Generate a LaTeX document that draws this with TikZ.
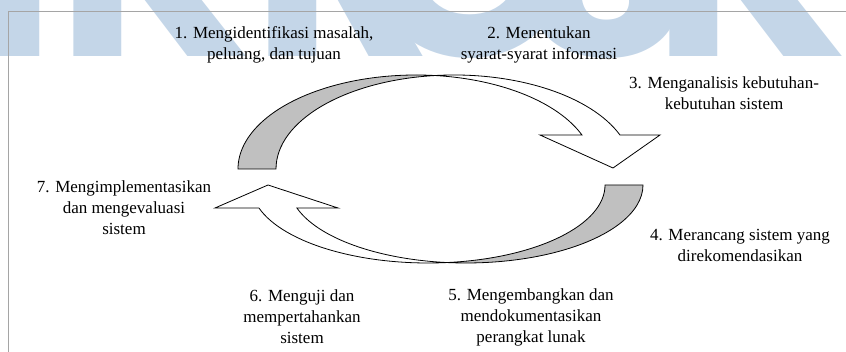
\documentclass[tikz,border=0pt]{standalone}
\usepackage{fontspec}
\setmainfont{Liberation Serif}
\newfontfamily\wmfont{Poppins}
\definecolor{bandgray}{RGB}{192,192,192}
\definecolor{wmblue}{RGB}{196,214,232}
\definecolor{framegray}{RGB}{165,165,165}

\begin{document}
\begin{tikzpicture}[x=1pt, y=1pt,
    steplabel/.style={align=center, inner sep=0pt, font=\fontsize{17}{21}\selectfont},
    band/.style={draw=black, line width=0.8pt, line join=miter}]
\useasboundingbox (0,0) rectangle (846,352);

% Watermark behind everything
\begin{scope}
    \clip (0,0) rectangle (846,352);
    \node[anchor=base west, inner sep=0pt, text=wmblue,
          font=\wmfont\bfseries\fontsize{280}{280}\selectfont] (wm) at (-283,295)
          {MIKR\kern-75pt O\kern-60pt S\kern-40pt KIL};
\end{scope}

% Frame
\draw[framegray, line width=0.8pt] (8,0) -- (8,341) -- (846,341);

% Upper arrow (two ellipses crossing at the top)
\path[band, fill=bandgray] (238,183)
    arc[start angle=180, end angle=83.87, x radius=178, y radius=94]
    arc[start angle=96.13, end angle=180, x radius=178, y radius=94] -- cycle;
\path[band, fill=white] (581.95,217)
    arc[start angle=21.2, end angle=83.87, x radius=178, y radius=94]
    arc[start angle=96.13, end angle=21.2, x radius=178, y radius=94]
    -- (660,217) -- (613,184) -- (540,217) -- cycle;

% Lower arrow (same shape turned round)
\path[band, fill=bandgray] (643,167)
    arc[start angle=0, end angle=-96.16, x radius=177, y radius=78]
    arc[start angle=-83.84, end angle=0, x radius=177, y radius=78] -- cycle;
\path[band, fill=white] (296.9,144)
    arc[start angle=-162.85, end angle=-96.16, x radius=177, y radius=78]
    arc[start angle=-83.84, end angle=-162.85, x radius=177, y radius=78]
    -- (215,144) -- (268,167) -- (338,144) -- cycle;

% Steps of the cycle
\foreach \n/\pos/\txt in {
    s1/{274,307}/{1. Mengidentifikasi masalah,\\peluang, dan tujuan},
    s2/{539,307}/{2. Menentukan\\syarat-syarat informasi},
    s3/{724,259}/{3. Menganalisis kebutuhan-\\kebutuhan sistem},
    s4/{740,107}/{4. Merancang sistem yang\\direkomendasikan},
    s5/{531,35}/{5. Mengembangkan dan\\mendokumentasikan\\perangkat lunak},
    s6/{302,35}/{6. Menguji dan\\mempertahankan\\sistem},
    s7/{124,144}/{7. Mengimplementasikan\\dan mengevaluasi\\sistem}} {
    \node[steplabel] (\n) at (\pos) {\txt};
}
\end{tikzpicture}
\end{document}
